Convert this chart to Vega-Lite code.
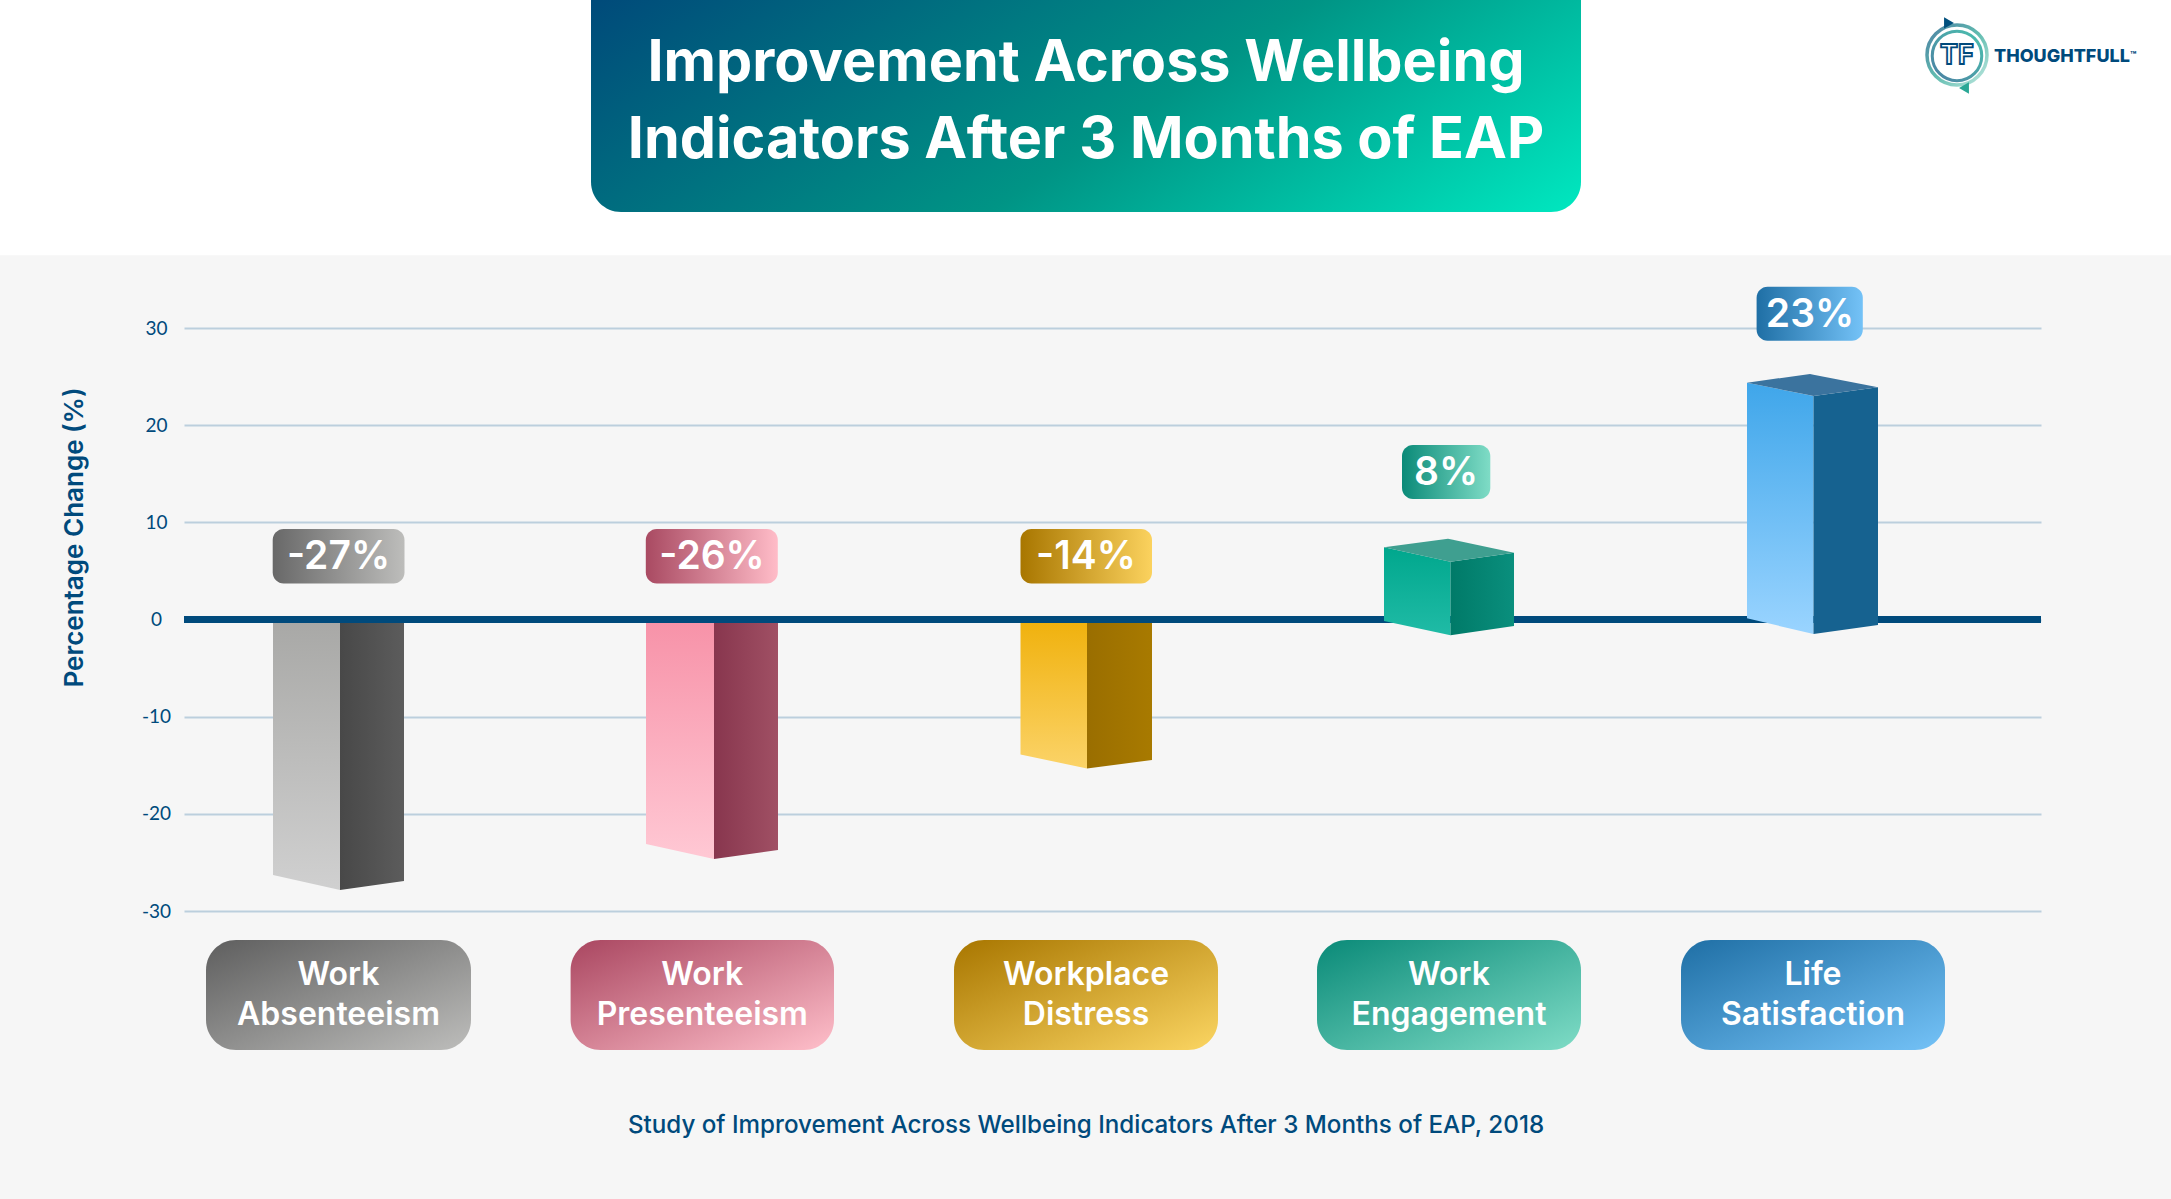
{"$schema":"https://vega.github.io/schema/vega-lite/v6.json","width":1857,"height":583,"autosize":"none","padding":{"left":184,"top":328,"right":130,"bottom":288},"background":"#f6f6f6","config":{"view":{"stroke":null},"font":"Inter"},
"datasets":{
"boxes":[
{"id":"strip","x":0,"x2":2171,"y":63.75,"y2":37.5},
{"id":"banner","x":591,"x2":1581,"y":63.75,"y2":41.94},
{"id":"b1","x":272.7,"x2":404.5,"y":9.31,"y2":3.7},
{"id":"b2","x":645.8,"x2":777.8,"y":9.31,"y2":3.7},
{"id":"b3","x":1020.5,"x2":1152,"y":9.31,"y2":3.7},
{"id":"b4","x":1402,"x2":1490.3,"y":17.96,"y2":12.4},
{"id":"b5","x":1756.6,"x2":1862.8,"y":34.25,"y2":28.69},
{"id":"c1","x":206,"x2":471,"y":-32.98,"y2":-44.3},
{"id":"c2","x":570.6,"x2":834,"y":-32.98,"y2":-44.3},
{"id":"c3","x":954,"x2":1218,"y":-32.98,"y2":-44.3},
{"id":"c4","x":1317,"x2":1581,"y":-32.98,"y2":-44.3},
{"id":"c5","x":1681,"x2":1945,"y":-32.98,"y2":-44.3}],
"faces":[
{"f":"1L","x":273,"y":0,"y2":-26.3},{"f":"1L","x":340,"y":0,"y2":-27.84},
{"f":"1R","x":340,"y":0,"y2":-27.84},{"f":"1R","x":404,"y":0,"y2":-26.9},
{"f":"2L","x":646,"y":0,"y2":-23.1},{"f":"2L","x":714,"y":0,"y2":-24.65},
{"f":"2R","x":714,"y":0,"y2":-24.65},{"f":"2R","x":778,"y":0,"y2":-23.72},
{"f":"3L","x":1020.5,"y":0,"y2":-13.9},{"f":"3L","x":1087,"y":0,"y2":-15.33},
{"f":"3R","x":1087,"y":0,"y2":-15.33},{"f":"3R","x":1152,"y":0,"y2":-14.46},
{"f":"4L","x":1384,"y":7.43,"y2":-0.15},{"f":"4L","x":1450.5,"y":5.95,"y2":-1.63},
{"f":"4R","x":1450.5,"y":5.95,"y2":-1.63},{"f":"4R","x":1514,"y":6.87,"y2":-0.67},
{"f":"4T","x":1384,"y":7.43,"y2":7.43},{"f":"4T","x":1448,"y":8.32,"y2":6.0},{"f":"4T","x":1450.5,"y":8.27,"y2":5.95},{"f":"4T","x":1514,"y":6.87,"y2":6.87},
{"f":"5L","x":1747,"y":24.37,"y2":0.12},{"f":"5L","x":1813.5,"y":23.0,"y2":-1.49},
{"f":"5R","x":1813.5,"y":23.0,"y2":-1.49},{"f":"5R","x":1878,"y":23.9,"y2":-0.57},
{"f":"5T","x":1747,"y":24.37,"y2":24.37},{"f":"5T","x":1810,"y":25.27,"y2":23.07},{"f":"5T","x":1813.5,"y":25.2,"y2":23.0},{"f":"5T","x":1878,"y":23.9,"y2":23.9}],
"bars":[
{"category":"Work Absenteeism","value":-27,"label":"-27%","x":338.5,"y":6.4,"cx":338.5,"cy":-38.64},
{"category":"Work Presenteeism","value":-26,"label":"-26%","x":712,"y":6.4,"cx":702.3,"cy":-38.64},
{"category":"Workplace Distress","value":-14,"label":"-14%","x":1086,"y":6.4,"cx":1086,"cy":-38.64},
{"category":"Work Engagement","value":8,"label":"8%","x":1446,"y":15.08,"cx":1449,"cy":-38.64},
{"category":"Life Satisfaction","value":23,"label":"23%","x":1810,"y":31.37,"cx":1813,"cy":-38.64}],
"titleRows":[{"t":"Improvement Across Wellbeing","x":1086,"y":57.2},{"t":"Indicators After 3 Months of EAP","x":1086,"y":49.2}]
},
"encoding":{
"x":{"field":"x","type":"quantitative","scale":{"domain":[184,2041],"nice":false,"zero":false},"axis":null},
"y":{"field":"y","type":"quantitative","scale":{"domain":[-30,30],"nice":false,"zero":false},"axis":{"values":[-30,-20,-10,0,10,20,30],"labelExpr":"toString(datum.value)","grid":true,"gridColor":"#bccfdd","gridWidth":2,"domain":false,"ticks":false,"labelAlign":"center","labelPadding":28,"labelFontSize":19,"labelColor":"#004a7c","labelFont":"Lato","title":"Percentage Change (%)","titleFontSize":26,"titleFont":"Inter","titleFontWeight":600,"titleColor":"#004a7c","titleX":-97,"titleY":209,"titleAngle":-90}}
},
"layer":[
{"data":{"name":"boxes"},"transform":[{"filter":"datum.id=='strip'"}],"mark":{"type":"rect","fill":"#ffffff"},"encoding":{"x2":{"field":"x2"},"y2":{"field":"y2"}}},
{"data":{"name":"boxes"},"transform":[{"filter":"datum.id=='banner'"}],"mark":{"type":"rect","cornerRadiusBottomLeft":30,"cornerRadiusBottomRight":30,"fill":{"gradient":"linear","x1":0,"y1":0,"x2":1.2,"y2":0.4,"stops":[{"offset":0,"color":"#004a7a"},{"offset":0.55,"color":"#009485"},{"offset":1,"color":"#00e8c0"}]}},"encoding":{"x2":{"field":"x2"},"y2":{"field":"y2"}}},
{"data":{"name":"titleRows"},"mark":{"type":"text","fontSize":57.5,"fontWeight":700,"font":"Inter","fill":"#ffffff","align":"center","baseline":"middle"},"encoding":{"text":{"field":"t"}}},

{"data":{"name":"faces"},"transform":[{"filter":"datum.f=='1L'"}],"mark":{"type":"area","fill":{"gradient":"linear","x1":0,"y1":0,"x2":0,"y2":1,"stops":[{"offset":0,"color":"#a8a8a6"},{"offset":1,"color":"#d0d0d0"}]}},"encoding":{"y2":{"field":"y2"}}},
{"data":{"name":"faces"},"transform":[{"filter":"datum.f=='1R'"}],"mark":{"type":"area","fill":{"gradient":"linear","x1":0,"y1":0,"x2":1,"y2":0,"stops":[{"offset":0,"color":"#484848"},{"offset":1,"color":"#5c5c5c"}]}},"encoding":{"y2":{"field":"y2"}}},
{"data":{"name":"faces"},"transform":[{"filter":"datum.f=='2L'"}],"mark":{"type":"area","fill":{"gradient":"linear","x1":0,"y1":0,"x2":0,"y2":1,"stops":[{"offset":0,"color":"#f792a8"},{"offset":1,"color":"#ffc8d4"}]}},"encoding":{"y2":{"field":"y2"}}},
{"data":{"name":"faces"},"transform":[{"filter":"datum.f=='2R'"}],"mark":{"type":"area","fill":{"gradient":"linear","x1":0,"y1":0,"x2":1,"y2":0,"stops":[{"offset":0,"color":"#88364e"},{"offset":1,"color":"#a05064"}]}},"encoding":{"y2":{"field":"y2"}}},
{"data":{"name":"faces"},"transform":[{"filter":"datum.f=='3L'"}],"mark":{"type":"area","fill":{"gradient":"linear","x1":0,"y1":0,"x2":0,"y2":1,"stops":[{"offset":0,"color":"#f0b10c"},{"offset":1,"color":"#fbd368"}]}},"encoding":{"y2":{"field":"y2"}}},
{"data":{"name":"faces"},"transform":[{"filter":"datum.f=='3R'"}],"mark":{"type":"area","fill":{"gradient":"linear","x1":0,"y1":0,"x2":1,"y2":0,"stops":[{"offset":0,"color":"#9a6e00"},{"offset":1,"color":"#a87a00"}]}},"encoding":{"y2":{"field":"y2"}}},

{"data":{"values":[{"x":184,"x2":2041,"y":0}]},"mark":{"type":"rule","stroke":"#004a7c","strokeWidth":7},"encoding":{"x2":{"field":"x2"}}},

{"data":{"name":"faces"},"transform":[{"filter":"datum.f=='4L'"}],"mark":{"type":"area","fill":{"gradient":"linear","x1":0,"y1":0,"x2":0,"y2":1,"stops":[{"offset":0,"color":"#00a78d"},{"offset":1,"color":"#20bba6"}]}},"encoding":{"y2":{"field":"y2"}}},
{"data":{"name":"faces"},"transform":[{"filter":"datum.f=='4R'"}],"mark":{"type":"area","fill":{"gradient":"linear","x1":0,"y1":0,"x2":1,"y2":0,"stops":[{"offset":0,"color":"#007a68"},{"offset":1,"color":"#0a8f7d"}]}},"encoding":{"y2":{"field":"y2"}}},
{"data":{"name":"faces"},"transform":[{"filter":"datum.f=='4T'"}],"mark":{"type":"area","fill":"#3f9f90"},"encoding":{"y2":{"field":"y2"}}},
{"data":{"name":"faces"},"transform":[{"filter":"datum.f=='5L'"}],"mark":{"type":"area","fill":{"gradient":"linear","x1":0,"y1":0,"x2":0,"y2":1,"stops":[{"offset":0,"color":"#3fa6ea"},{"offset":1,"color":"#9ad4ff"}]}},"encoding":{"y2":{"field":"y2"}}},
{"data":{"name":"faces"},"transform":[{"filter":"datum.f=='5R'"}],"mark":{"type":"area","fill":"#166290"},"encoding":{"y2":{"field":"y2"}}},
{"data":{"name":"faces"},"transform":[{"filter":"datum.f=='5T'"}],"mark":{"type":"area","fill":"#3b739e"},"encoding":{"y2":{"field":"y2"}}},

{"data":{"name":"boxes"},"transform":[{"filter":"datum.id=='b1'"}],"mark":{"type":"rect","cornerRadius":11,"fill":{"gradient":"linear","x1":0,"y1":0,"x2":1,"y2":0,"stops":[{"offset":0,"color":"#686868"},{"offset":1,"color":"#bdbdbb"}]}},"encoding":{"x2":{"field":"x2"},"y2":{"field":"y2"}}},
{"data":{"name":"boxes"},"transform":[{"filter":"datum.id=='b2'"}],"mark":{"type":"rect","cornerRadius":11,"fill":{"gradient":"linear","x1":0,"y1":0,"x2":1,"y2":0,"stops":[{"offset":0,"color":"#a94a62"},{"offset":1,"color":"#ffbcc8"}]}},"encoding":{"x2":{"field":"x2"},"y2":{"field":"y2"}}},
{"data":{"name":"boxes"},"transform":[{"filter":"datum.id=='b3'"}],"mark":{"type":"rect","cornerRadius":11,"fill":{"gradient":"linear","x1":0,"y1":0,"x2":1,"y2":0,"stops":[{"offset":0,"color":"#a87600"},{"offset":1,"color":"#fbd25e"}]}},"encoding":{"x2":{"field":"x2"},"y2":{"field":"y2"}}},
{"data":{"name":"boxes"},"transform":[{"filter":"datum.id=='b4'"}],"mark":{"type":"rect","cornerRadius":11,"fill":{"gradient":"linear","x1":0,"y1":0,"x2":1,"y2":0,"stops":[{"offset":0,"color":"#0a8a78"},{"offset":1,"color":"#7fdcc6"}]}},"encoding":{"x2":{"field":"x2"},"y2":{"field":"y2"}}},
{"data":{"name":"boxes"},"transform":[{"filter":"datum.id=='b5'"}],"mark":{"type":"rect","cornerRadius":11,"fill":{"gradient":"linear","x1":0,"y1":0,"x2":1,"y2":0,"stops":[{"offset":0,"color":"#1f6fa5"},{"offset":1,"color":"#74c2f7"}]}},"encoding":{"x2":{"field":"x2"},"y2":{"field":"y2"}}},
{"data":{"name":"bars"},"mark":{"type":"text","fontSize":39,"fontWeight":600,"font":"Inter","fill":"#ffffff","align":"center","baseline":"middle"},"encoding":{"text":{"field":"label"}}},

{"data":{"name":"boxes"},"transform":[{"filter":"datum.id=='c1'"}],"mark":{"type":"rect","cornerRadius":30,"fill":{"gradient":"linear","x1":0,"y1":0,"x2":1,"y2":1,"stops":[{"offset":0,"color":"#5e5e5e"},{"offset":1,"color":"#bdbdbb"}]}},"encoding":{"x2":{"field":"x2"},"y2":{"field":"y2"}}},
{"data":{"name":"boxes"},"transform":[{"filter":"datum.id=='c2'"}],"mark":{"type":"rect","cornerRadius":30,"fill":{"gradient":"linear","x1":0,"y1":0,"x2":1,"y2":1,"stops":[{"offset":0,"color":"#a94660"},{"offset":1,"color":"#ffbfca"}]}},"encoding":{"x2":{"field":"x2"},"y2":{"field":"y2"}}},
{"data":{"name":"boxes"},"transform":[{"filter":"datum.id=='c3'"}],"mark":{"type":"rect","cornerRadius":30,"fill":{"gradient":"linear","x1":0,"y1":0,"x2":1,"y2":1,"stops":[{"offset":0,"color":"#a87600"},{"offset":1,"color":"#fbd562"}]}},"encoding":{"x2":{"field":"x2"},"y2":{"field":"y2"}}},
{"data":{"name":"boxes"},"transform":[{"filter":"datum.id=='c4'"}],"mark":{"type":"rect","cornerRadius":30,"fill":{"gradient":"linear","x1":0,"y1":0,"x2":1,"y2":1,"stops":[{"offset":0,"color":"#0a8a78"},{"offset":1,"color":"#7fdcc6"}]}},"encoding":{"x2":{"field":"x2"},"y2":{"field":"y2"}}},
{"data":{"name":"boxes"},"transform":[{"filter":"datum.id=='c5'"}],"mark":{"type":"rect","cornerRadius":30,"fill":{"gradient":"linear","x1":0,"y1":0,"x2":1,"y2":1,"stops":[{"offset":0,"color":"#1f6fa5"},{"offset":1,"color":"#74c2f7"}]}},"encoding":{"x2":{"field":"x2"},"y2":{"field":"y2"}}},
{"data":{"name":"bars"},"mark":{"type":"text","fontSize":32,"fontWeight":600,"font":"Inter","fill":"#ffffff","align":"center","baseline":"middle","lineBreak":" ","lineHeight":40,"dy":-20},"encoding":{"text":{"field":"category"},"x":{"field":"cx","type":"quantitative"},"y":{"field":"cy","type":"quantitative"}}},

{"data":{"values":[{"t":"Study of Improvement Across Wellbeing Indicators After 3 Months of EAP, 2018","x":1086,"y":-52.1}]},"mark":{"type":"text","fontSize":24.2,"fontWeight":500,"font":"Inter","fill":"#004a7c","align":"center","baseline":"middle"},"encoding":{"text":{"field":"t"}}},

{"data":{"values":[{"x":1957,"y":58.1}]},"mark":{"type":"point","shape":"circle","size":3600,"filled":false,"strokeWidth":3.5,"stroke":{"gradient":"linear","x1":0,"y1":0,"x2":1,"y2":1,"stops":[{"offset":0,"color":"#004a7c"},{"offset":0.5,"color":"#1fa08f"},{"offset":1,"color":"#a4e0d3"}]}}},
{"data":{"values":[{"x":1957,"y":58.0}]},"mark":{"type":"point","shape":"circle","size":2450,"filled":false,"strokeWidth":3,"stroke":{"gradient":"linear","x1":1,"y1":0,"x2":0,"y2":1,"stops":[{"offset":0,"color":"#00a78d"},{"offset":1,"color":"#004a7c"}]}}},
{"data":{"values":[{"x":1949,"y":61.4}]},"mark":{"type":"point","shape":"triangle-right","size":130,"filled":true,"fill":"#00507e","opacity":1}},
{"data":{"values":[{"x":1964,"y":54.7}]},"mark":{"type":"point","shape":"triangle-left","size":130,"filled":true,"fill":"#2aa795","opacity":1}},
{"data":{"values":[{"t":"TF","x":1957,"y":58.0}]},"mark":{"type":"text","fontSize":27,"fontWeight":700,"font":"Inter","fill":"#ffffff","stroke":"#004a7c","strokeWidth":1.8,"align":"center","baseline":"middle"},"encoding":{"text":{"field":"t"}}},
{"data":{"values":[{"t":"THOUGHTFULL","x":1994,"y":57.9}]},"mark":{"type":"text","fontSize":18,"fontWeight":800,"font":"Inter","fill":"#004a7c","align":"left","baseline":"middle"},"encoding":{"text":{"field":"t"}}},
{"data":{"values":[{"t":"™","x":2130,"y":58.0}]},"mark":{"type":"text","fontSize":10,"fontWeight":800,"font":"Inter","fill":"#004a7c","align":"left","baseline":"middle"},"encoding":{"text":{"field":"t"}}}
]}
